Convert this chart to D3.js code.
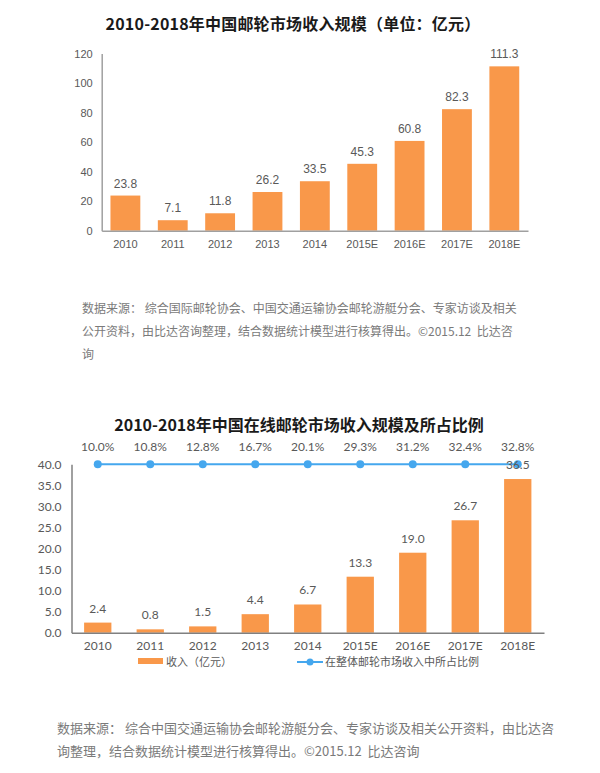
<!DOCTYPE html>
<html>
<head>
<meta charset="utf-8">
<script src="https://cdn.jsdelivr.net/npm/d3@7"></script>
<style>
html,body{margin:0;padding:0;background:#fff;}
svg{display:block;}
svg text{white-space:pre;}
</style>
</head>
<body>
<svg id="chart" width="600" height="773"></svg>
<script>
// ---------- data ----------
const years = ["2010","2011","2012","2013","2014","2015E","2016E","2017E","2018E"];
const marketRevenue = [23.8, 7.1, 11.8, 26.2, 33.5, 45.3, 60.8, 82.3, 111.3];
const topTicks = [0, 20, 40, 60, 80, 100, 120];

const onlineRevenue = [2.4, 0.8, 1.5, 4.4, 6.7, 13.3, 19.0, 26.7, 36.5];
const onlineShare = [10.0, 10.8, 12.8, 16.7, 20.1, 29.3, 31.2, 32.4, 32.8];
const bottomTicks = [0, 5, 10, 15, 20, 25, 30, 35, 40];

const title1 = "2010-2018年中国邮轮市场收入规模（单位：亿元）";
const title2 = "2010-2018年中国在线邮轮市场收入规模及所占比例";
const source1 = [
  "数据来源： 综合国际邮轮协会、中国交通运输协会邮轮游艇分会、专家访谈及相关",
  "公开资料，由比达咨询整理，结合数据统计模型进行核算得出。©2015.12  比达咨",
  "询"
];
const source2 = [
  "数据来源： 综合中国交通运输协会邮轮游艇分会、专家访谈及相关公开资料，由比达咨",
  "询整理，结合数据统计模型进行核算得出。©2015.12  比达咨询"
];
const legendBar = "收入（亿元）";
const legendLine = "在整体邮轮市场收入中所占比例";

// ---------- styles ----------
const ORANGE = "#F9984A";
const BLUE = "#45A7EE";
const AXIS = "#A0A0A0";
const LABEL = "#595959";
const CJK = "'Noto Sans CJK SC', 'Noto Sans', sans-serif";
const ARIAL = "'Liberation Sans', Arial, sans-serif";
const NUM2 = "Lato, 'Noto Sans', sans-serif";

const svg = d3.select("#chart");

// ================= Chart 1 =================
{
  const x0 = 101.7, x1 = 528, yBottom = 230.7, yTop = 53.5;
  const x = d3.scaleBand().domain(years).range([x0, x1]).paddingInner(0.37).paddingOuter(0.185);
  const y = d3.scaleLinear().domain([0, 120]).range([yBottom, yTop]);
  const g = svg.append("g");

  g.append("text").attr("x", 293).attr("y", 30).attr("text-anchor", "middle")
    .attr("font-family", CJK).attr("font-weight", "bold").attr("font-size", 16)
    .attr("letter-spacing", 0.2)
    .attr("fill", "#1a1a1a").text(title1);

  // bars
  g.selectAll("rect.b1").data(marketRevenue).join("rect").attr("class", "b1")
    .attr("x", (d, i) => x(years[i])).attr("width", x.bandwidth())
    .attr("y", d => y(d)).attr("height", d => yBottom - y(d)).attr("fill", ORANGE);

  // value labels
  g.selectAll("text.v1").data(marketRevenue).join("text").attr("class", "v1")
    .attr("x", (d, i) => x(years[i]) + x.bandwidth() / 2).attr("y", d => y(d) - 8)
    .attr("text-anchor", "middle").attr("font-family", ARIAL).attr("font-size", 12)
    .attr("fill", LABEL).text(d => d.toFixed(1));

  // y axis
  const ya = d3.axisLeft(y).tickValues(topTicks).tickSize(0).tickPadding(9).tickFormat(d3.format("d"));
  const yag = g.append("g").attr("transform", `translate(${x0},0)`).call(ya);
  yag.select(".domain").attr("stroke", AXIS).attr("stroke-width", 1.5);
  yag.selectAll("text").attr("font-family", ARIAL).attr("font-size", 11).attr("fill", LABEL);

  // x axis
  const xa = d3.axisBottom(x).tickSize(0).tickPadding(10);
  const xag = g.append("g").attr("transform", `translate(0,${yBottom})`).call(xa);
  xag.select(".domain").attr("stroke", AXIS).attr("stroke-width", 1.5);
  xag.selectAll("text").attr("font-family", ARIAL).attr("font-size", 11).attr("fill", LABEL);

  g.selectAll("text.s1").data(source1).join("text").attr("class", "s1")
    .attr("x", 82).attr("y", (d, i) => 313 + i * 23)
    .attr("font-family", CJK).attr("font-size", 12).attr("fill", "#7a7a7a").text(d => d);
}

// ================= Chart 2 =================
{
  const x0 = 71.5, x1 = 544, yBottom = 632.7, yTop = 464.3;
  const x = d3.scaleBand().domain(years).range([x0, x1]).paddingInner(0.48).paddingOuter(0.24);
  const y = d3.scaleLinear().domain([0, 40]).range([yBottom, yTop]);
  // secondary share scale: the reference plots every share point at the top of the plot
  const y2 = d3.scaleLinear().domain([0, 10]).range([yBottom, yTop]).clamp(true);
  const cx = (i) => x(years[i]) + x.bandwidth() / 2;
  const g = svg.append("g");

  g.append("text").attr("x", 299).attr("y", 431).attr("text-anchor", "middle")
    .attr("font-family", CJK).attr("font-weight", "bold").attr("font-size", 16)
    .attr("fill", "#1a1a1a").text(title2);

  // bars
  g.selectAll("rect.b2").data(onlineRevenue).join("rect").attr("class", "b2")
    .attr("x", (d, i) => x(years[i])).attr("width", x.bandwidth())
    .attr("y", d => y(d)).attr("height", d => yBottom - y(d)).attr("fill", ORANGE);

  // y axis
  const ya = d3.axisLeft(y).tickValues(bottomTicks).tickSize(0).tickPadding(10).tickFormat(d3.format(".1f"));
  const yag = g.append("g").attr("transform", `translate(${x0},0)`).call(ya);
  yag.select(".domain").attr("stroke", "#808080").attr("stroke-width", 1.5);
  yag.selectAll("text").attr("font-family", NUM2).attr("font-size", 12).attr("fill", LABEL);

  // x axis
  const xa = d3.axisBottom(x).tickSize(0).tickPadding(9);
  const xag = g.append("g").attr("transform", `translate(0,${yBottom})`).call(xa);
  xag.select(".domain").attr("stroke", "#808080").attr("stroke-width", 1.5);
  xag.selectAll("text").attr("font-family", NUM2).attr("font-size", 12).attr("fill", LABEL);

  // share line
  const line = d3.line().x((d, i) => cx(i)).y(d => y2(d));
  g.append("path").datum(onlineShare).attr("d", line).attr("fill", "none")
    .attr("stroke", BLUE).attr("stroke-width", 2);
  g.selectAll("circle.p2").data(onlineShare).join("circle").attr("class", "p2")
    .attr("cx", (d, i) => cx(i)).attr("cy", d => y2(d)).attr("r", 4).attr("fill", BLUE);

  // share labels
  g.selectAll("text.sh").data(onlineShare).join("text").attr("class", "sh")
    .attr("x", (d, i) => cx(i)).attr("y", d => y2(d) - 13)
    .attr("text-anchor", "middle").attr("font-family", NUM2).attr("font-size", 12)
    .attr("fill", LABEL).text(d => d.toFixed(1) + "%");

  // value labels
  g.selectAll("text.v2").data(onlineRevenue).join("text").attr("class", "v2")
    .attr("x", (d, i) => cx(i)).attr("y", d => y(d) - 10)
    .attr("text-anchor", "middle").attr("font-family", NUM2).attr("font-size", 12)
    .attr("fill", LABEL).text(d => d.toFixed(1));

  // legend
  const lg = g.append("g");
  lg.append("rect").attr("x", 138).attr("y", 658).attr("width", 25).attr("height", 6).attr("fill", ORANGE);
  lg.append("text").attr("x", 166).attr("y", 666).attr("font-family", CJK).attr("font-size", 11)
    .attr("fill", LABEL).text(legendBar);
  lg.append("line").attr("x1", 297).attr("x2", 323).attr("y1", 662).attr("y2", 662)
    .attr("stroke", BLUE).attr("stroke-width", 2);
  lg.append("circle").attr("cx", 310).attr("cy", 662).attr("r", 3.5).attr("fill", BLUE);
  lg.append("text").attr("x", 325).attr("y", 666).attr("font-family", CJK).attr("font-size", 11)
    .attr("fill", LABEL).text(legendLine);

  g.selectAll("text.s2").data(source2).join("text").attr("class", "s2")
    .attr("x", 57).attr("y", (d, i) => 733 + i * 23)
    .attr("font-family", CJK).attr("font-size", 13).attr("fill", "#7a7a7a").text(d => d);
}
</script>
</body>
</html>
